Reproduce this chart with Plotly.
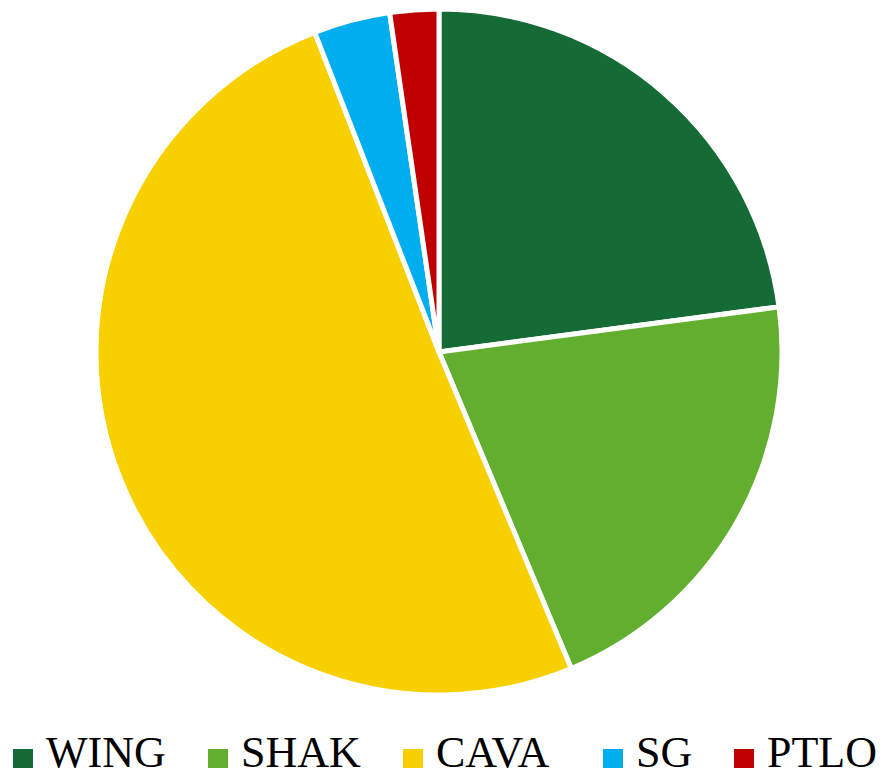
import plotly.graph_objects as go

# Share of each company (percent)
companies = ["WING", "SHAK", "CAVA", "SG", "PTLO"]
shares = [22.9, 20.8, 50.4, 3.6, 2.3]
colors = ["#156B35", "#62AE2E", "#F8D000", "#00AEEF", "#C00000"]

W, H = 884, 776
FONT = "Times New Roman"

# Pie placement in pixels (centre and radius)
cx, cy, r = 439, 352, 343

fig = go.Figure(
    go.Pie(
        labels=companies,
        values=shares,
        sort=False,
        direction="clockwise",
        rotation=0,
        textinfo="none",
        hoverinfo="label+percent",
        showlegend=False,
        domain=dict(
            x=[(cx - r) / W, (cx + r) / W],
            y=[1 - (cy + r) / H, 1 - (cy - r) / H],
        ),
        marker=dict(colors=colors, line=dict(color="white", width=5)),
    )
)

# Legend row along the bottom: colour square followed by the company name
legend_left = [13, 208, 403, 603, 734]   # left edge of each square, px
sq_top, sq_bottom = 749, 768             # square extent, px
text_gap = 32                            # square left edge -> text start, px
text_mid = 752                           # vertical centre of the label box, px

shapes = []
annotations = []
for name, col, x0 in zip(companies, colors, legend_left):
    shapes.append(dict(
        type="rect", xref="paper", yref="paper",
        x0=x0 / W, x1=(x0 + 20) / W,
        y0=1 - sq_bottom / H, y1=1 - sq_top / H,
        fillcolor=col, line=dict(width=0),
    ))
    annotations.append(dict(
        text=name, xref="paper", yref="paper",
        x=(x0 + text_gap) / W, y=1 - text_mid / H,
        xanchor="left", yanchor="middle",
        showarrow=False, borderpad=0,
        font=dict(family=FONT, size=44, color="#000000"),
    ))

fig.update_layout(
    width=W,
    height=H,
    margin=dict(l=0, r=0, t=0, b=0, autoexpand=False),
    paper_bgcolor="white",
    plot_bgcolor="white",
    font=dict(family=FONT, color="#000000"),
    showlegend=False,
    shapes=shapes,
    annotations=annotations,
)

fig.write_html("out.html")
